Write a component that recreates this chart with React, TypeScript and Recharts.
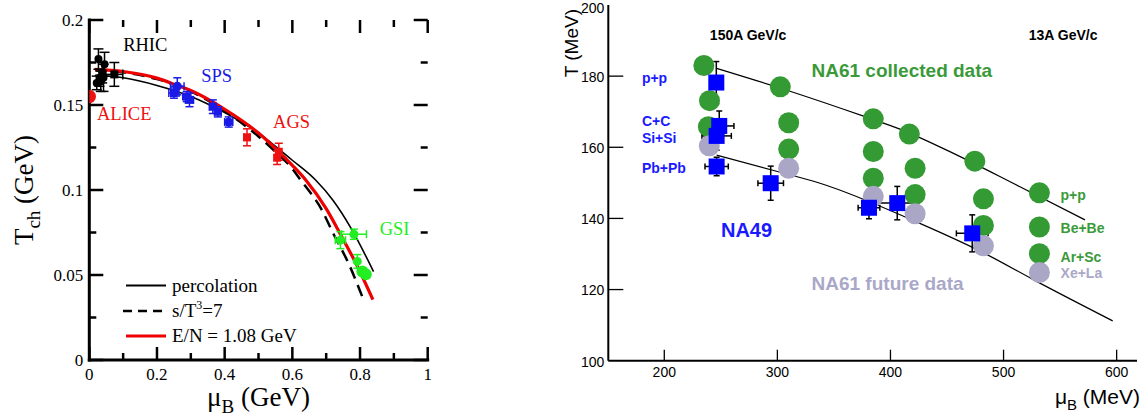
import React from 'react';
import { ComposedChart, XAxis, YAxis, Line, Scatter, ErrorBar, ReferenceDot, ReferenceLine, Legend } from 'recharts';

// ================= LEFT PANEL DATA =================
const leftXTicks = [0, 0.1, 0.2, 0.3, 0.4, 0.5, 0.6, 0.7, 0.8, 0.9, 1];
const leftXMajor = [0, 0.2, 0.4, 0.6, 0.8, 1];
const leftYTicks = [0, 0.025, 0.05, 0.075, 0.1, 0.125, 0.15, 0.175, 0.2];
const leftYMajor = [0, 0.05, 0.1, 0.15, 0.2];

const percolationCurve = [
  { x: 0.017, y: 0.1675 }, { x: 0.1, y: 0.166 }, { x: 0.2, y: 0.1615 }, { x: 0.3, y: 0.155 },
  { x: 0.4, y: 0.1455 }, { x: 0.5, y: 0.1335 }, { x: 0.6, y: 0.1175 }, { x: 0.668, y: 0.106 },
  { x: 0.72, y: 0.094 }, { x: 0.775, y: 0.077 }, { x: 0.84, y: 0.052 },
];
const entropyCurve = [
  { x: 0.017, y: 0.1705 }, { x: 0.1, y: 0.1692 }, { x: 0.2, y: 0.1652 }, { x: 0.3, y: 0.158 },
  { x: 0.4, y: 0.1465 }, { x: 0.5, y: 0.1315 }, { x: 0.55, y: 0.1225 }, { x: 0.6, y: 0.1125 },
  { x: 0.624, y: 0.106 }, { x: 0.685, y: 0.089 }, { x: 0.722, y: 0.074 }, { x: 0.768, y: 0.056 },
  { x: 0.811, y: 0.035 },
];
const energyCurve = [
  { x: 0.017, y: 0.171 }, { x: 0.1, y: 0.1697 }, { x: 0.2, y: 0.1658 }, { x: 0.26, y: 0.1615 },
  { x: 0.3, y: 0.1585 }, { x: 0.4, y: 0.1475 }, { x: 0.5, y: 0.1335 }, { x: 0.555, y: 0.1235 },
  { x: 0.6, y: 0.1145 }, { x: 0.639, y: 0.106 }, { x: 0.7, y: 0.089 }, { x: 0.742, y: 0.074 },
  { x: 0.79, y: 0.056 }, { x: 0.838, y: 0.0355 },
];

const aliceData = [{ x: 0, y: 0.155 }];
const rhicCircles = [
  { x: 0.027, y: 0.177, ey: 0.006 }, { x: 0.045, y: 0.174, ey: 0.007 },
  { x: 0.022, y: 0.163, ey: 0.004 }, { x: 0.03, y: 0.166, ey: 0.005 },
  { x: 0.038, y: 0.169, ey: 0.006 }, { x: 0.034, y: 0.164, ey: 0.006 },
  { x: 0.042, y: 0.166, ey: 0.008 },
];
const rhicSquares = [{ x: 0.074, y: 0.168, ey: 0.007, ex: 0.025 }];
const spsCircles = [
  { x: 0.26, y: 0.161, ey: 0.005, ex: 0.02 }, { x: 0.412, y: 0.14, ey: 0.003, ex: 0.012 },
];
const spsSquares = [
  { x: 0.25, y: 0.157, ey: 0.003, ex: 0.015 }, { x: 0.288, y: 0.155, ey: 0.003, ex: 0.012 },
  { x: 0.296, y: 0.153, ey: 0.004, ex: 0.012 }, { x: 0.365, y: 0.149, ey: 0.004, ex: 0.01 },
  { x: 0.38, y: 0.146, ey: 0.003, ex: 0.01 },
];
const agsPoints = [
  { x: 0.466, y: 0.131, ey: 0.005, ex: 0.008 }, { x: 0.56, y: 0.1225, ey: 0.005 },
  { x: 0.555, y: 0.119, ey: 0.004 },
];
const gsiPoints = [
  { x: 0.742, y: 0.0705, ey: 0.005, ex: 0.015 }, { x: 0.782, y: 0.074, ey: 0.003, ex: 0.037 },
  { x: 0.792, y: 0.058, ey: 0.004 },
];
const gsiBig = [{ x: 0.807, y: 0.052 }, { x: 0.817, y: 0.0505 }];

const leftAnnotations = [
  { x: 0.1, y: 0.1818, text: 'RHIC', color: '#000000' },
  { x: 0.331, y: 0.1637, text: 'SPS', color: '#1a1ae6' },
  { x: 0.0228, y: 0.1412, text: 'ALICE', color: '#ee1111' },
  { x: 0.543, y: 0.1363, text: 'AGS', color: '#ee1111' },
  { x: 0.858, y: 0.0735, text: 'GSI', color: '#22ee22' },
];

// ================= RIGHT PANEL DATA =================
const rightXTicks = [200, 300, 400, 500, 600];
const rightYTicks = [100, 120, 140, 160, 180, 200];

const greenCircles = [
  { x: 235, y: 183 }, { x: 240, y: 173.1 }, { x: 239, y: 165.8 },
  { x: 302.6, y: 177 }, { x: 310, y: 166.9 }, { x: 310, y: 159.5 },
  { x: 384.8, y: 168 }, { x: 384.8, y: 158.8 }, { x: 384.8, y: 151.3 },
  { x: 416.7, y: 163.7 }, { x: 421.8, y: 154.1 }, { x: 421.8, y: 146.7 },
  { x: 474.6, y: 156.1 }, { x: 482.2, y: 145.5 }, { x: 482.2, y: 138 },
  { x: 531.7, y: 147.2 }, { x: 531.7, y: 137.6 }, { x: 531.7, y: 130.1 },
];
const grayCircles = [
  { x: 239.8, y: 160.4 }, { x: 310, y: 154.1 }, { x: 384.8, y: 146.2 },
  { x: 421.8, y: 141.3 }, { x: 482.2, y: 132.3 }, { x: 531.7, y: 124.8 },
];
const na49Squares = [
  { x: 246, y: 178.2, ey: 5.9 },
  { x: 248.6, y: 166, ex: 13, ey: 4.2 },
  { x: 246.3, y: 163.2, ex: 13, ey: 4 },
  { x: 246.3, y: 154.6, ex: 10.3, ey: 2.6 },
  { x: 294.1, y: 149.9, ex: 11.3, ey: 4.8 },
  { x: 381, y: 143, ex: 9.6, ey: 3.1 },
  { x: 406, y: 144.3, ex: 18.6, ey: 4.7 },
  { x: 472.3, y: 135.8, ex: 14, ey: 5.2 },
];
const upperLine = [
  { x: 246.3, y: 182.2 }, { x: 303, y: 176.6 }, { x: 377.5, y: 168.6 }, { x: 408.4, y: 165.1 },
  { x: 449.7, y: 159.2 }, { x: 514.5, y: 148.9 }, { x: 572, y: 139.6 },
];
const lowerLine = [
  { x: 246.3, y: 157.8 }, { x: 300, y: 153.2 }, { x: 337.7, y: 149.9 }, { x: 426, y: 138.6 },
  { x: 485, y: 129.9 }, { x: 526.3, y: 122.8 }, { x: 596.5, y: 111.2 },
];

const rightAnnotations = [
  { x: 240.3, y: 190.1, text: '150A GeV/c', color: '#000000', size: 14 },
  { x: 522.3, y: 190.1, text: '13A GeV/c', color: '#000000', size: 14 },
  { x: 180.2, y: 178.0, text: 'p+p', color: '#1a1aff', size: 14 },
  { x: 180.2, y: 166.1, text: 'C+C', color: '#1a1aff', size: 14 },
  { x: 180.2, y: 161.1, text: 'Si+Si', color: '#1a1aff', size: 14 },
  { x: 180.2, y: 152.9, text: 'Pb+Pb', color: '#1a1aff', size: 14 },
  { x: 250.1, y: 134.9, text: 'NA49', color: '#1a1aff', size: 20 },
  { x: 330.2, y: 179.7, text: 'NA61 collected data', color: '#3a9a3a', size: 19 },
  { x: 330.2, y: 119.9, text: 'NA61 future data', color: '#aaa8c8', size: 19 },
  { x: 550.4, y: 145.2, text: 'p+p', color: '#3a9a3a', size: 14 },
  { x: 550.4, y: 135.8, text: 'Be+Be', color: '#3a9a3a', size: 14 },
  { x: 550.4, y: 127.8, text: 'Ar+Sc', color: '#3a9a3a', size: 14 },
  { x: 550.4, y: 123.2, text: 'Xe+La', color: '#aaa8c8', size: 14 },
];

// ================= HELPERS =================
const serif = "'Liberation Serif', 'Times New Roman', serif";
const sans = "'Liberation Sans', Arial, Helvetica, sans-serif";

const L_DOM_X: [number, number] = [0, 1];
const L_DOM_Y: [number, number] = [0, 0.2];
const L_W = 338.4; // plot width (px)
const L_H = 340; // plot height (px)
const R_DOM_X: [number, number] = [150.5, 618];
const R_DOM_Y: [number, number] = [100, 200];
const R_W = 528.7;
const R_H = 355.7;

const isIn = (list: number[], v: number) => list.some((m) => Math.abs(m - v) < 1e-9);

type Side = 'bottom' | 'left';
type LabelOpt = { family: string; size: number; offset: number; shift?: number };

function makeTickText(side: Side, majors: number[], label: LabelOpt) {
  return (props: any) => {
    const x = Number(props.x);
    const y = Number(props.y);
    const v = Number(props.payload && props.payload.value);
    if (!isIn(majors, v)) return <g />;
    if (side === 'bottom') {
      return (
        <text x={x} y={y + label.offset} textAnchor="middle" fontFamily={label.family} fontSize={label.size} fill="#000">
          {String(v)}
        </text>
      );
    }
    // keep the label fully inside the svg (baseline never above one font-height from the top)
    const base = Math.max(y + label.size * (label.shift ?? 0.36), label.size * 0.95);
    return (
      <text x={x - label.offset} y={base} textAnchor="end" fontFamily={label.family} fontSize={label.size} fill="#000">
        {String(v)}
      </text>
    );
  };
}

// tick marks drawn inward as reference-line segments, lengths converted from px to data units via the axis ranges
function tickMarks(opts: {
  xTicks: number[]; xMajors: number[]; yTicks: number[]; yMajors: number[];
  domX: [number, number]; domY: [number, number]; w: number; h: number;
  xMajorPx: number; xMinorPx: number; yMajorPx: number; yMinorPx: number;
  mirror: boolean; sw: number; prefix: string;
}) {
  const ux = (opts.domX[1] - opts.domX[0]) / opts.w;
  const uy = (opts.domY[1] - opts.domY[0]) / opts.h;
  const out: React.ReactNode[] = [];
  opts.xTicks.forEach((v, i) => {
    const len = (isIn(opts.xMajors, v) ? opts.xMajorPx : opts.xMinorPx) * uy;
    if (len <= 0) return;
    out.push(
      <ReferenceLine key={`${opts.prefix}xb${i}`} xAxisId="b" yAxisId="l" ifOverflow="visible"
        segment={[{ x: v, y: opts.domY[0] }, { x: v, y: opts.domY[0] + len }]} stroke="#000" strokeWidth={opts.sw} />
    );
    if (opts.mirror) {
      out.push(
        <ReferenceLine key={`${opts.prefix}xt${i}`} xAxisId="b" yAxisId="l" ifOverflow="visible"
          segment={[{ x: v, y: opts.domY[1] }, { x: v, y: opts.domY[1] - len }]} stroke="#000" strokeWidth={opts.sw} />
      );
    }
  });
  opts.yTicks.forEach((v, i) => {
    const len = (isIn(opts.yMajors, v) ? opts.yMajorPx : opts.yMinorPx) * ux;
    if (len <= 0) return;
    out.push(
      <ReferenceLine key={`${opts.prefix}yl${i}`} xAxisId="b" yAxisId="l" ifOverflow="visible"
        segment={[{ x: opts.domX[0], y: v }, { x: opts.domX[0] + len, y: v }]} stroke="#000" strokeWidth={opts.sw} />
    );
    if (opts.mirror) {
      out.push(
        <ReferenceLine key={`${opts.prefix}yr${i}`} xAxisId="b" yAxisId="l" ifOverflow="visible"
          segment={[{ x: opts.domX[1], y: v }, { x: opts.domX[1] - len, y: v }]} stroke="#000" strokeWidth={opts.sw} />
      );
    }
  });
  return out;
}

const circleShape = (r: number, fill: string) => (p: any) => <circle cx={p.cx} cy={p.cy} r={r} fill={fill} />;
const squareShape = (s: number, fill: string) => (p: any) => (
  <rect x={p.cx - s / 2} y={p.cy - s / 2} width={s} height={s} fill={fill} />
);

const textLabel = (txt: string, style: any) => (p: any) => {
  const vb = p.viewBox || p;
  return (
    <text x={vb.x} y={vb.y} {...style}>
      {txt}
    </text>
  );
};

const leftYTitle = (p: any) => {
  const vb = p.viewBox;
  const bx = vb.x + 33;
  const cy = vb.y + vb.height / 2;
  return (
    <text transform={`rotate(-90 ${bx} ${cy})`} x={bx} y={cy} textAnchor="middle" fontFamily={serif} fontSize={27} fill="#000">
      T<tspan fontSize={19} dy={7}>ch</tspan>
      <tspan dy={-7}> (GeV)</tspan>
    </text>
  );
};
const leftXTitle = (p: any) => {
  const vb = p.viewBox;
  const cx = vb.x + vb.width / 2;
  const by = vb.y + 46;
  return (
    <text x={cx} y={by} textAnchor="middle" fontFamily={serif} fontSize={27} fill="#000">
      μ<tspan fontSize={19} dy={7}>B</tspan>
      <tspan dy={-7}> (GeV)</tspan>
    </text>
  );
};
const rightYTitle = (p: any) => {
  const vb = p.viewBox;
  const bx = vb.x + 128;
  const ty = vb.y + 4;
  return (
    <text transform={`rotate(-90 ${bx} ${ty})`} x={bx} y={ty} textAnchor="end" fontFamily={sans} fontSize={19} fill="#000">
      T (MeV)
    </text>
  );
};
const rightXTitle = (p: any) => {
  const vb = p.viewBox;
  const ex = vb.x + vb.width + 3;
  const by = vb.y + 43;
  return (
    <text x={ex} y={by} textAnchor="end" fontFamily={sans} fontSize={21} fill="#000">
      μ<tspan fontSize={15} dy={6}>B</tspan>
      <tspan dy={-6}> (MeV)</tspan>
    </text>
  );
};

const LeftLegend = () => (
  <svg width={220} height={80} style={{ overflow: 'visible', display: 'block' }}>
    <line x1={6} x2={46} y1={15.5} y2={15.5} stroke="#000" strokeWidth={1.8} />
    <text x={52} y={21.5} fontFamily={serif} fontSize={19} fill="#000">percolation</text>
    <line x1={3} x2={43} y1={41} y2={41} stroke="#000" strokeWidth={2.5} strokeDasharray="9 6" />
    <text x={52} y={47} fontFamily={serif} fontSize={19} fill="#000">
      s/T<tspan dy={-8} fontSize={12}>3</tspan>
      <tspan dy={8}>=7</tspan>
    </text>
    <line x1={6} x2={46} y1={66} y2={66} stroke="#ee0000" strokeWidth={3} />
    <text x={52} y={72} fontFamily={serif} fontSize={19} fill="#000">E/N = 1.08 GeV</text>
  </svg>
);

const thickAxis = { stroke: '#000', strokeWidth: 3, strokeLinecap: 'square' as const };

function LeftChart() {
  return (
    <ComposedChart width={450} height={416} margin={{ top: 20, right: 22.3, bottom: 26, left: 0 }}>
      <XAxis xAxisId="b" type="number" dataKey="x" domain={L_DOM_X} ticks={leftXTicks} interval={0} allowDataOverflow
        height={30} tickSize={0} tickMargin={0} tickLine={false} axisLine={thickAxis}
        tick={makeTickText('bottom', leftXMajor, { family: serif, size: 17, offset: 20 })} label={leftXTitle} />
      <XAxis xAxisId="t" orientation="top" type="number" dataKey="x" domain={L_DOM_X} allowDataOverflow
        height={0} tick={false} tickLine={false} axisLine={thickAxis} />
      <YAxis yAxisId="l" type="number" dataKey="y" domain={L_DOM_Y} ticks={leftYTicks} interval={0} allowDataOverflow
        width={89.3} tickSize={0} tickMargin={0} tickLine={false} axisLine={thickAxis}
        tick={makeTickText('left', leftYMajor, { family: serif, size: 17, offset: 6 })} label={leftYTitle} />
      <YAxis yAxisId="r" orientation="right" type="number" dataKey="y" domain={L_DOM_Y} allowDataOverflow
        width={0} tick={false} tickLine={false} axisLine={thickAxis} />

      {tickMarks({
        xTicks: leftXTicks, xMajors: leftXMajor, yTicks: leftYTicks, yMajors: leftYMajor,
        domX: L_DOM_X, domY: L_DOM_Y, w: L_W, h: L_H,
        xMajorPx: 13, xMinorPx: 7, yMajorPx: 14, yMinorPx: 7, mirror: true, sw: 2.5, prefix: 'L',
      })}

      <Line xAxisId="b" yAxisId="l" data={entropyCurve} dataKey="y" type="monotone" stroke="#000" strokeWidth={2.5}
        strokeDasharray="12 7" dot={false} activeDot={false} isAnimationActive={false} />
      <Line xAxisId="b" yAxisId="l" data={percolationCurve} dataKey="y" type="monotone" stroke="#000" strokeWidth={1.6}
        dot={false} activeDot={false} isAnimationActive={false} />
      <Line xAxisId="b" yAxisId="l" data={energyCurve} dataKey="y" type="monotone" stroke="#ee0000" strokeWidth={3.2}
        dot={false} activeDot={false} isAnimationActive={false} />

      <Scatter xAxisId="b" yAxisId="l" data={rhicCircles} shape={circleShape(4, '#000')} isAnimationActive={false}>
        <ErrorBar dataKey="ey" direction="y" width={5} stroke="#000" strokeWidth={1.5} />
      </Scatter>
      <Scatter xAxisId="b" yAxisId="l" data={rhicSquares} shape={squareShape(8, '#000')} isAnimationActive={false}>
        <ErrorBar dataKey="ey" direction="y" width={5} stroke="#000" strokeWidth={1.5} />
        <ErrorBar dataKey="ex" direction="x" width={5} stroke="#000" strokeWidth={1.5} />
      </Scatter>
      <Scatter xAxisId="b" yAxisId="l" data={spsSquares} shape={squareShape(8, '#1a1ae6')} isAnimationActive={false}>
        <ErrorBar dataKey="ey" direction="y" width={4} stroke="#1a1ae6" strokeWidth={1.5} />
        <ErrorBar dataKey="ex" direction="x" width={4} stroke="#1a1ae6" strokeWidth={1.5} />
      </Scatter>
      <Scatter xAxisId="b" yAxisId="l" data={spsCircles} shape={circleShape(4.5, '#1a1ae6')} isAnimationActive={false}>
        <ErrorBar dataKey="ey" direction="y" width={4} stroke="#1a1ae6" strokeWidth={1.5} />
        <ErrorBar dataKey="ex" direction="x" width={4} stroke="#1a1ae6" strokeWidth={1.5} />
      </Scatter>
      <Scatter xAxisId="b" yAxisId="l" data={agsPoints} shape={squareShape(8, '#ee1111')} isAnimationActive={false}>
        <ErrorBar dataKey="ey" direction="y" width={4} stroke="#ee1111" strokeWidth={1.5} />
        <ErrorBar dataKey="ex" direction="x" width={4} stroke="#ee1111" strokeWidth={1.5} />
      </Scatter>
      <Scatter xAxisId="b" yAxisId="l" data={gsiPoints} shape={circleShape(4.5, '#22ee22')} isAnimationActive={false}>
        <ErrorBar dataKey="ey" direction="y" width={4} stroke="#22ee22" strokeWidth={1.5} />
        <ErrorBar dataKey="ex" direction="x" width={4} stroke="#22ee22" strokeWidth={1.5} />
      </Scatter>
      <Scatter xAxisId="b" yAxisId="l" data={gsiBig} shape={circleShape(6, '#22ee22')} isAnimationActive={false} />
      <Scatter xAxisId="b" yAxisId="l" data={aliceData} shape={circleShape(6.7, '#ee1111')} isAnimationActive={false} />

      {leftAnnotations.map((a) => (
        <ReferenceDot key={a.text} xAxisId="b" yAxisId="l" x={a.x} y={a.y} r={0} fill="none" stroke="none" ifOverflow="visible"
          label={textLabel(a.text, { fontFamily: serif, fontSize: 18.5, fill: a.color })} />
      ))}
      <Legend layout="vertical" align="center" verticalAlign="middle" wrapperStyle={{ left: 120, top: 270, width: 220, height: 80 }}
        content={() => <LeftLegend />} />
    </ComposedChart>
  );
}

function RightChart() {
  return (
    <ComposedChart width={696} height={416} margin={{ top: 5, right: 9, bottom: 25.3, left: 0 }}>
      <XAxis xAxisId="b" type="number" dataKey="x" domain={R_DOM_X} ticks={rightXTicks} interval={0} allowDataOverflow
        height={30} tickSize={0} tickMargin={0} tickLine={false} axisLine={{ stroke: '#000', strokeWidth: 2 }}
        tick={makeTickText('bottom', rightXTicks, { family: sans, size: 14, offset: 16 })} label={rightXTitle} />
      <XAxis xAxisId="t" orientation="top" type="number" dataKey="x" domain={R_DOM_X} allowDataOverflow
        height={0} tick={false} tickLine={false} axisLine={{ stroke: '#000', strokeWidth: 1.5 }} />
      <YAxis yAxisId="l" type="number" dataKey="y" domain={R_DOM_Y} ticks={rightYTicks} interval={0} allowDataOverflow
        width={158.3} tickSize={0} tickMargin={0} tickLine={false} axisLine={{ stroke: '#000', strokeWidth: 2 }}
        tick={makeTickText('left', rightYTicks, { family: sans, size: 14, offset: 4, shift: 0.42 })} label={rightYTitle} />
      <YAxis yAxisId="r" orientation="right" type="number" dataKey="y" domain={R_DOM_Y} allowDataOverflow
        width={0} tick={false} tickLine={false} axisLine={{ stroke: '#000', strokeWidth: 1.5 }} />

      {tickMarks({
        xTicks: rightXTicks, xMajors: rightXTicks, yTicks: rightYTicks.filter((v) => v > 100 && v < 200), yMajors: rightYTicks,
        domX: R_DOM_X, domY: R_DOM_Y, w: R_W, h: R_H,
        xMajorPx: 11, xMinorPx: 0, yMajorPx: 15, yMinorPx: 0, mirror: false, sw: 1.3, prefix: 'R',
      })}

      <Scatter xAxisId="b" yAxisId="l" data={greenCircles} shape={circleShape(10.5, '#349a34')} isAnimationActive={false} />
      <Scatter xAxisId="b" yAxisId="l" data={grayCircles} shape={circleShape(10.5, '#a9a6c6')} isAnimationActive={false} />
      <Line xAxisId="b" yAxisId="l" data={upperLine} dataKey="y" type="monotone" stroke="#000" strokeWidth={1.2}
        dot={false} activeDot={false} isAnimationActive={false} />
      <Line xAxisId="b" yAxisId="l" data={lowerLine} dataKey="y" type="monotone" stroke="#000" strokeWidth={1.2}
        dot={false} activeDot={false} isAnimationActive={false} />
      <Scatter xAxisId="b" yAxisId="l" data={na49Squares} shape={squareShape(16, '#0000ff')} isAnimationActive={false}>
        <ErrorBar dataKey="ey" direction="y" width={3} stroke="#000" strokeWidth={1.5} />
        <ErrorBar dataKey="ex" direction="x" width={3} stroke="#000" strokeWidth={1.5} />
      </Scatter>

      {rightAnnotations.map((a, i) => (
        <ReferenceDot key={'ra' + i} xAxisId="b" yAxisId="l" x={a.x} y={a.y} r={0} fill="none" stroke="none" ifOverflow="visible"
          label={textLabel(a.text, { fontFamily: sans, fontSize: a.size, fontWeight: 'bold', fill: a.color })} />
      ))}
    </ComposedChart>
  );
}

export default function App() {
  return (
    <div style={{ position: 'absolute', left: 0, top: 0, width: 1146, height: 416, background: '#fff', overflow: 'hidden' }}>
      <div style={{ position: 'absolute', left: 0, top: 0, width: 450, height: 416 }}>
        <LeftChart />
      </div>
      <div style={{ position: 'absolute', left: 450, top: 0, width: 696, height: 416 }}>
        <RightChart />
      </div>
    </div>
  );
}
